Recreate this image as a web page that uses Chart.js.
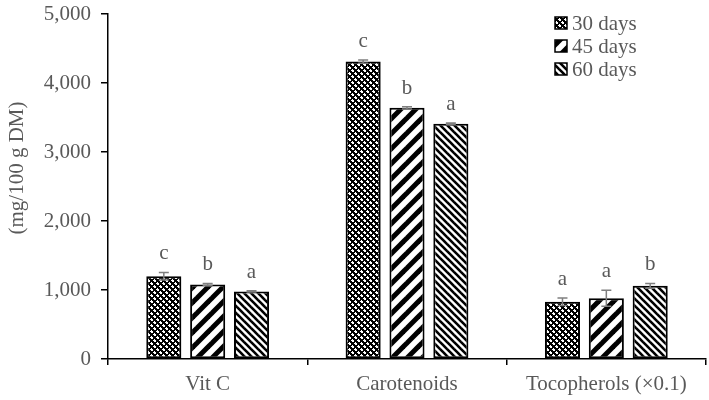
<!DOCTYPE html>
<html>
<head>
<meta charset="utf-8">
<script src="https://cdn.jsdelivr.net/npm/chart.js@4"></script>
<style>
html,body{margin:0;padding:0;background:#fff;}
#wrap{width:709px;height:400px;position:relative;}
</style>
</head>
<body>
<div id="wrap"><canvas id="c" width="709" height="400"></canvas></div>
<script>
const categories = ['Vit C', 'Carotenoids', 'Tocopherols (×0.1)'];
const seriesNames = ['30 days', '45 days', '60 days'];
const values30 = [1200, 4310, 830];
const values45 = [1080, 3640, 880];
const values60 = [980, 3410, 1060];
const err30 = [55, 25, 55];
const err45 = [15, 15, 115];
const err60 = [10, 10, 35];
const letters30 = ['c', 'c', 'a'];
const letters45 = ['b', 'b', 'a'];
const letters60 = ['a', 'a', 'b'];
const yTicks = [0, 1000, 2000, 3000, 4000, 5000];
const yTitle = '(mg/100 g DM)';

const FONT = "'Liberation Serif', 'Times New Roman', serif";
const GRAY = '#595959';

function makeTile(size, draw) {
  const c = document.createElement('canvas');
  c.width = size; c.height = size;
  const g = c.getContext('2d');
  g.fillStyle = '#fff';
  g.fillRect(0, 0, size, size);
  draw(g, size);
  return document.getElementById('c').getContext('2d').createPattern(c, 'repeat');
}
// 30 days: checker-like dotted
const pat30 = makeTile(6, (g, s) => {
  g.fillStyle = '#000'; g.fillRect(0, 0, s, s);
  g.fillStyle = '#fff';
  g.fillRect(1, 0, 1, 3);
  g.fillRect(0, 1, 3, 1);
  g.fillRect(1, 1, 2, 2);
  g.fillRect(4, 3, 1, 3);
  g.fillRect(3, 4, 3, 1);
  g.fillRect(4, 4, 2, 2);
});
// 45 days: wide upward diagonal
const pat45 = makeTile(15, (g, s) => {
  g.strokeStyle = '#000'; g.lineWidth = 5; g.lineCap = 'square';
  for (const o of [-s, 0, s]) {
    g.beginPath(); g.moveTo(o - 2, s + 2); g.lineTo(o + s + 2, -2); g.stroke();
  }
});
// 60 days: dark downward diagonal
const pat60 = makeTile(7, (g, s) => {
  g.strokeStyle = '#000'; g.lineWidth = 2.6;
  for (const o of [-s, 0, s]) {
    g.beginPath(); g.moveTo(o - 2, -2); g.lineTo(o + s + 2, s + 2); g.stroke();
  }
});
const patterns = [pat30, pat45, pat60];
const errs = [err30, err45, err60];
const letters = [letters30, letters45, letters60];

const overlay = {
  id: 'overlay',
  afterDatasetsDraw(chart) {
    const ctx = chart.ctx;
    const y = chart.scales.y;
    ctx.save();
    chart.data.datasets.forEach((ds, di) => {
      const meta = chart.getDatasetMeta(di);
      meta.data.forEach((bar, i) => {
        const v = ds.data[i];
        const e = errs[di][i];
        const x = bar.x;
        const yt = y.getPixelForValue(v + e);
        const yb = y.getPixelForValue(v - e);
        ctx.strokeStyle = '#7f7f7f';
        ctx.lineWidth = 1.5;
        ctx.beginPath();
        ctx.moveTo(x, yt); ctx.lineTo(x, yb);
        ctx.moveTo(x - 5, yt); ctx.lineTo(x + 5, yt);
        ctx.moveTo(x - 5, yb); ctx.lineTo(x + 5, yb);
        ctx.stroke();
        ctx.fillStyle = GRAY;
        ctx.font = '21px ' + FONT;
        ctx.textAlign = 'center';
        ctx.textBaseline = 'alphabetic';
        ctx.fillText(letters[di][i], x, yt - 13);
      });
    });
    // legend
    const lx = 555, ly = [23, 46, 69];
    seriesNames.forEach((n, i) => {
      ctx.fillStyle = patterns[i];
      ctx.fillRect(lx, ly[i] - 6, 12, 12);
      ctx.strokeStyle = '#000'; ctx.lineWidth = 1.5;
      ctx.strokeRect(lx, ly[i] - 6, 12, 12);
      ctx.fillStyle = GRAY;
      ctx.font = '21px ' + FONT;
      ctx.textAlign = 'left';
      ctx.textBaseline = 'middle';
      ctx.fillText(n, lx + 17, ly[i] + 1);
    });
    // y-axis title
    ctx.translate(17, 168);
    ctx.rotate(-Math.PI / 2);
    ctx.fillStyle = GRAY;
    ctx.font = '21px ' + FONT;
    ctx.textAlign = 'center';
    ctx.textBaseline = 'middle';
    ctx.fillText(yTitle, 0, 0);
    ctx.restore();
  }
};

new Chart(document.getElementById('c'), {
  type: 'bar',
  data: {
    labels: categories,
    datasets: [values30, values45, values60].map((d, i) => ({
      label: seriesNames[i],
      data: d,
      backgroundColor: patterns[i],
      borderColor: '#000',
      borderWidth: 2,
      borderSkipped: false,
      categoryPercentage: 0.66,
      barPercentage: 0.8
    }))
  },
  options: {
    responsive: false,
    animation: false,
    layout: { padding: { top: 0, right: 3, left: 0, bottom: 0 } },
    plugins: { legend: { display: false }, tooltip: { enabled: false } },
    scales: {
      x: {
        grid: { offset: true, drawOnChartArea: false, color: '#000', tickLength: 6, lineWidth: 1.5 },
        border: { color: '#000', width: 1.5 },
        ticks: { color: GRAY, font: { family: FONT, size: 21 }, padding: 7, maxRotation: 0 },
        afterFit(s) { s.height = 41; }
      },
      y: {
        min: 0, max: 5000,
        afterBuildTicks(s) { s.ticks = yTicks.map(v => ({ value: v })); },
        grid: { drawOnChartArea: false, color: '#000', tickLength: 7, lineWidth: 1.5 },
        border: { color: '#000', width: 1.5 },
        ticks: { color: GRAY, font: { family: FONT, size: 21 }, padding: 10 },
        title: { display: false },
        afterFit(s) { s.width = 108; s.paddingTop = 14; s.paddingBottom = 0; }
      }
    }
  },
  plugins: [overlay]
});
</script>
</body>
</html>
